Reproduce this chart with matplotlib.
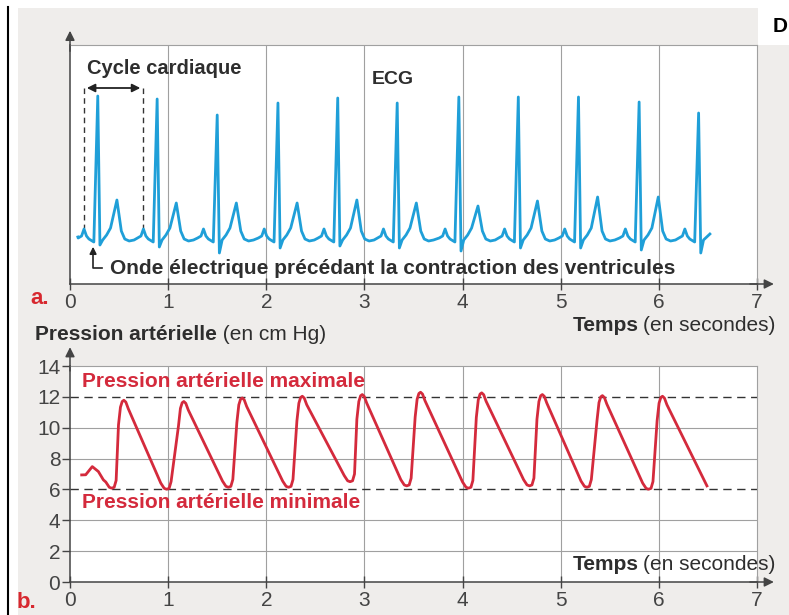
import matplotlib.pyplot as plt
from matplotlib.patches import Rectangle
from matplotlib.lines import Line2D

# ECG : instants des pics R (s) et hauteurs (unités arbitraires)
ecg_base = 46
ecg_r_times = [0.283, 0.888, 1.50, 2.119, 2.728, 3.334, 3.962, 4.568, 5.181, 5.799, 6.405]
ecg_r_heights = [188, 185, 169, 181, 186, 181, 187, 187, 187, 182, 171]
ecg_s_heights = [39, 37, 31, 36, 38, 36, 33, 36, 36, 34, 31]
ecg_t_heights = [84, 81, 81, 81, 84, 81, 78, 83, 87, 87]
ecg_start = (0.08, 47)
ecg_end = (6.52, 50)

# Pression artérielle (cm Hg) : creux et pics
p_debut_t = [0.119, 0.16, 0.227, 0.289, 0.34]
p_debut_v = [6.94, 6.95, 7.48, 7.16, 6.62]
p_creux_t = [0.425, 0.985, 1.614, 2.227, 2.854, 3.431, 4.06, 4.682, 5.267, 5.895]
p_creux_v = [6.08, 6.01, 6.14, 6.14, 6.5, 6.23, 6.08, 6.23, 6.14, 6.01]
p_pic_t = [0.544, 1.155, 1.75, 2.362, 2.973, 3.567, 4.19, 4.808, 5.42, 6.032]
p_pic_v = [11.78, 11.7, 11.93, 12.04, 12.15, 12.3, 12.26, 12.15, 12.08, 12.04]
p_fin = (6.49, 6.23)

x_ticks = [0, 1, 2, 3, 4, 5, 6, 7]
y_ticks = [0, 2, 4, 6, 8, 10, 12, 14]

W, H = 789, 615
bleu = '#1f9fd8'
rouge = '#d42a3c'
fond = '#efedeb'
grille = '#a0a0a0'
texte = '#2e2e2e'
plt.rcParams['font.family'] = ['Liberation Sans', 'DejaVu Sans']


def fx(px):
    return px / W


def fy(py):
    return 1 - py / H


fig = plt.figure(figsize=(W / 100, H / 100), dpi=100)
fig.patch.set_facecolor('white')
fig.add_artist(Rectangle((fx(18), 0), 1, fy(8), transform=fig.transFigure,
                         facecolor=fond, edgecolor='none', zorder=0))
fig.add_artist(Rectangle((fx(758), fy(45)), 1, 1, transform=fig.transFigure,
                         facecolor='white', edgecolor='none', zorder=0))
fig.add_artist(Line2D([fx(8), fx(8)], [0, fy(7)], transform=fig.transFigure,
                      color='black', lw=1.5))
fig.text(fx(773), fy(27), 'D', fontsize=15, fontweight='bold', va='center')

# ---------- a. ECG ----------
ax1 = fig.add_axes([fx(70), fy(284), fx(757) - fx(70), fy(45) - fy(284)])
ax1.set_xlim(0, 7)
ax1.set_ylim(0, 239)

ecg_t = [ecg_start[0]]
ecg_v = [ecg_start[1]]
for i, tr in enumerate(ecg_r_times):
    pts = [(-0.20, 0), (-0.165, 2), (-0.14, 9), (-0.115, 2), (-0.09, -1),
           (-0.04, -4), (0, ecg_r_heights[i] - ecg_base),
           (0.022, ecg_s_heights[i] - ecg_base), (0.05, -2)]
    if i < len(ecg_t_heights):
        pts += [(0.09, 3), (0.13, 10), (0.195, ecg_t_heights[i] - ecg_base),
                (0.24, 7), (0.275, -1), (0.32, -3), (0.37, -2)]
    for dt, dv in pts:
        ecg_t.append(tr + dt)
        ecg_v.append(ecg_base + dv)
ecg_t.append(ecg_end[0])
ecg_v.append(ecg_end[1])
ax1.plot(ecg_t, ecg_v, color=bleu, lw=2.0, solid_joinstyle='round', zorder=3)

# ---------- b. Pression ----------
ax2 = fig.add_axes([fx(70), fy(582), fx(757) - fx(70), fy(366) - fy(582)])
ax2.set_xlim(0, 7)
ax2.set_ylim(0, 14)

pt = list(p_debut_t)
pv = list(p_debut_v)
for i in range(len(p_creux_t)):
    tt, tv = p_creux_t[i], p_creux_v[i]
    tp, vp = p_pic_t[i], p_pic_v[i]
    pts = [(tt - 0.06, tv + 0.4), (tt - 0.025, tv + 0.06), (tt, tv),
           (tt + 0.025, tv + 0.06), (tt + 0.045, tv + 0.5),
           (tp - 0.05, vp - 1.6), (tp - 0.03, vp - 0.45), (tp - 0.012, vp - 0.08),
           (tp + 0.005, vp), (tp + 0.025, vp - 0.12), (tp + 0.05, vp - 0.55)]
    for a, b in pts:
        pt.append(a)
        pv.append(b)
pt.append(p_fin[0])
pv.append(p_fin[1])
ax2.plot(pt, pv, color=rouge, lw=2.0, solid_joinstyle='round', zorder=3)

for ax in (ax1, ax2):
    ax.set_facecolor('white')
    for s in ('top', 'right'):
        ax.spines[s].set_color(grille)
        ax.spines[s].set_linewidth(0.8)
    for s in ('left', 'bottom'):
        ax.spines[s].set_color('#444444')
        ax.spines[s].set_linewidth(1.1)
    ax.set_xticks(x_ticks)
    ax.set_xticklabels([str(v) for v in x_ticks])
    ax.tick_params(axis='x', direction='inout', length=9, width=1, color='#444444',
                   labelsize=15, labelcolor='#444444', pad=2)
    for v in x_ticks[1:-1]:
        ax.axvline(v, color=grille, lw=0.8, zorder=1)
    ax.annotate('', xy=(7.2, 0), xytext=(6.9, 0), xycoords='data',
                arrowprops=dict(arrowstyle='-|>', color='#444444', lw=1.1,
                                mutation_scale=14), annotation_clip=False)

ax1.set_yticks([])
ax1.annotate('', xy=(0, 256), xytext=(0, 230),
             arrowprops=dict(arrowstyle='-|>', color='#444444', lw=1.1,
                             mutation_scale=14), annotation_clip=False)

ax2.set_yticks(y_ticks)
ax2.set_yticklabels([str(v) for v in y_ticks])
ax2.tick_params(axis='y', direction='out', length=6, width=1, color='#444444',
                labelsize=15, labelcolor='#444444', pad=1)
ax2.annotate('', xy=(0, 15.4), xytext=(0, 13.5),
             arrowprops=dict(arrowstyle='-|>', color='#444444', lw=1.1,
                             mutation_scale=14), annotation_clip=False)
for v in [2, 4, 8, 10]:
    ax2.axhline(v, color=grille, lw=0.8, zorder=1)
for v in [6, 12]:
    ax2.axhline(v, color='#333333', lw=1.0, dashes=(6, 4), zorder=2)

# annotations ECG
ax1.text(0.17, 215, 'Cycle cardiaque', fontsize=14.5, fontweight='bold', color=texte, va='center')
ax1.text(3.07, 205, 'ECG', fontsize=14, fontweight='bold', color=texte, va='center')
ax1.annotate('', xy=(0.143, 196), xytext=(0.745, 196),
             arrowprops=dict(arrowstyle='<|-|>', color='#222222', lw=1.3, mutation_scale=12))
for v in (0.143, 0.745):
    ax1.plot([v, v], [196, 56], color='#333333', lw=1, dashes=(4, 3))
ax1.annotate('', xy=(0.235, 40), xytext=(0.235, 30),
             arrowprops=dict(arrowstyle='-|>', color='#222222', lw=1.2, mutation_scale=10))
ax1.plot([0.235, 0.235, 0.33], [30, 16, 16], color='#222222', lw=1.2)
ax1.text(0.41, 15, 'Onde électrique précédant la contraction des ventricules',
         fontsize=15, fontweight='bold', color=texte, va='center')

# annotations pression
ax2.text(0.12, 13.0, 'Pression artérielle maximale', fontsize=15, fontweight='bold',
         color=rouge, va='center')
ax2.text(0.12, 5.15, 'Pression artérielle minimale', fontsize=15, fontweight='bold',
         color=rouge, va='center')

# titres d'axes
t1 = fig.text(fx(35), fy(334), 'Pression artérielle', fontsize=15, fontweight='bold',
              color=texte, va='center')
ax2.annotate(' (en cm Hg)', xy=(1, 0), xycoords=t1, fontsize=15, color=texte, va='bottom')

for py in (326, 565):
    t2 = fig.text(fx(775), fy(py), '(en secondes)', fontsize=15, color=texte,
                  ha='right', va='center')
    ax2.annotate('Temps', xy=(0, 0), xycoords=t2, xytext=(-2.5, 0),
                 textcoords='offset points', fontsize=15, fontweight='bold',
                 color=texte, ha='right', va='bottom')

fig.text(fx(30), fy(298), 'a.', fontsize=16, fontweight='bold', color='#d7282f', va='center')
fig.text(fx(17), fy(603), 'b.', fontsize=16, fontweight='bold', color='#d7282f', va='center')

fig.savefig('out.png', dpi=100)
